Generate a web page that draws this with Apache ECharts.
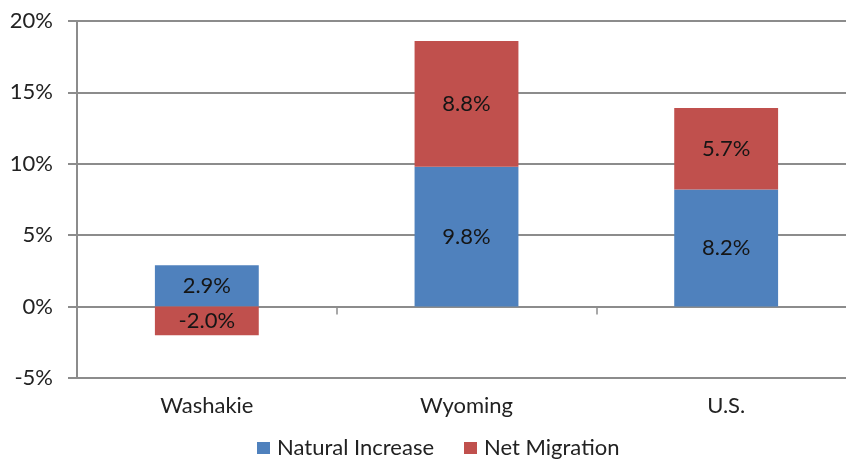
<!DOCTYPE html>
<html>
<head>
<meta charset="utf-8">
<script src="https://cdn.jsdelivr.net/npm/echarts@6/dist/echarts.min.js"></script>
<style>
  html, body { margin: 0; padding: 0; background: #fff; }
  #chart { width: 846px; height: 459px; }
</style>
</head>
<body>
<div id="chart"></div>
<script>
// Population change components, percent
const categories = ['Washakie', 'Wyoming', 'U.S.'];
const naturalIncrease = [2.9, 9.8, 8.2];
const netMigration = [-2.0, 8.8, 5.7];
const yTicks = { min: -5, max: 20, interval: 5 };

const FONT = 'Lato';
const FS = 22;
const chart = echarts.init(document.getElementById('chart'));

const labelStyle = {
  show: true,
  position: 'inside',
  color: '#151515',
  fontFamily: FONT,
  fontSize: FS,
  formatter: p => p.value.toFixed(1) + '%'
};

chart.setOption({
  animation: false,
  textStyle: { fontFamily: FONT },
  // plot runs a little past the right edge of the canvas
  grid: {
    left: 77, top: 21, width: 779, height: 357,
    containLabel: false,
    outerBoundsMode: 'none'
  },
  legend: {
    top: 437,
    left: 257,
    padding: 0,
    icon: 'rect',
    itemWidth: 13,
    itemHeight: 12,
    itemGap: 30,
    textStyle: { fontFamily: FONT, fontSize: FS, color: '#222', padding: [0, 0, 0, 2] },
    data: ['Natural Increase', 'Net Migration']
  },
  xAxis: [
    {
      // axis line and ticks sitting on the 0% line
      type: 'category',
      data: categories,
      axisLine: { onZero: true, lineStyle: { color: '#8c8c8c', width: 2 } },
      axisTick: { show: true, length: 8, lineStyle: { color: '#8c8c8c', width: 1.5 } },
      axisLabel: { show: false }
    },
    {
      // category names below the plot
      type: 'category',
      data: categories,
      position: 'bottom',
      axisLine: { show: false },
      axisTick: { show: false },
      axisLabel: { show: true, margin: 17, fontFamily: FONT, fontSize: FS, color: '#222' }
    }
  ],
  yAxis: {
    type: 'value',
    min: yTicks.min,
    max: yTicks.max,
    interval: yTicks.interval,
    axisLine: { show: true, lineStyle: { color: '#8c8c8c', width: 2 } },
    axisTick: { show: true, length: 9, lineStyle: { color: '#8c8c8c', width: 2 } },
    splitLine: { show: true, lineStyle: { color: '#8c8c8c', width: 2 } },
    axisLabel: {
      margin: 24,
      fontFamily: FONT,
      fontSize: FS,
      color: '#222',
      formatter: '{value}%'
    }
  },
  series: [
    {
      name: 'Natural Increase',
      type: 'bar',
      stack: 'total',
      barWidth: '40%',
      data: naturalIncrease,
      itemStyle: { color: '#4F81BD' },
      label: labelStyle
    },
    {
      name: 'Net Migration',
      type: 'bar',
      stack: 'total',
      barWidth: '40%',
      data: netMigration,
      itemStyle: { color: '#C0504D' },
      label: labelStyle
    }
  ]
});
</script>
</body>
</html>
